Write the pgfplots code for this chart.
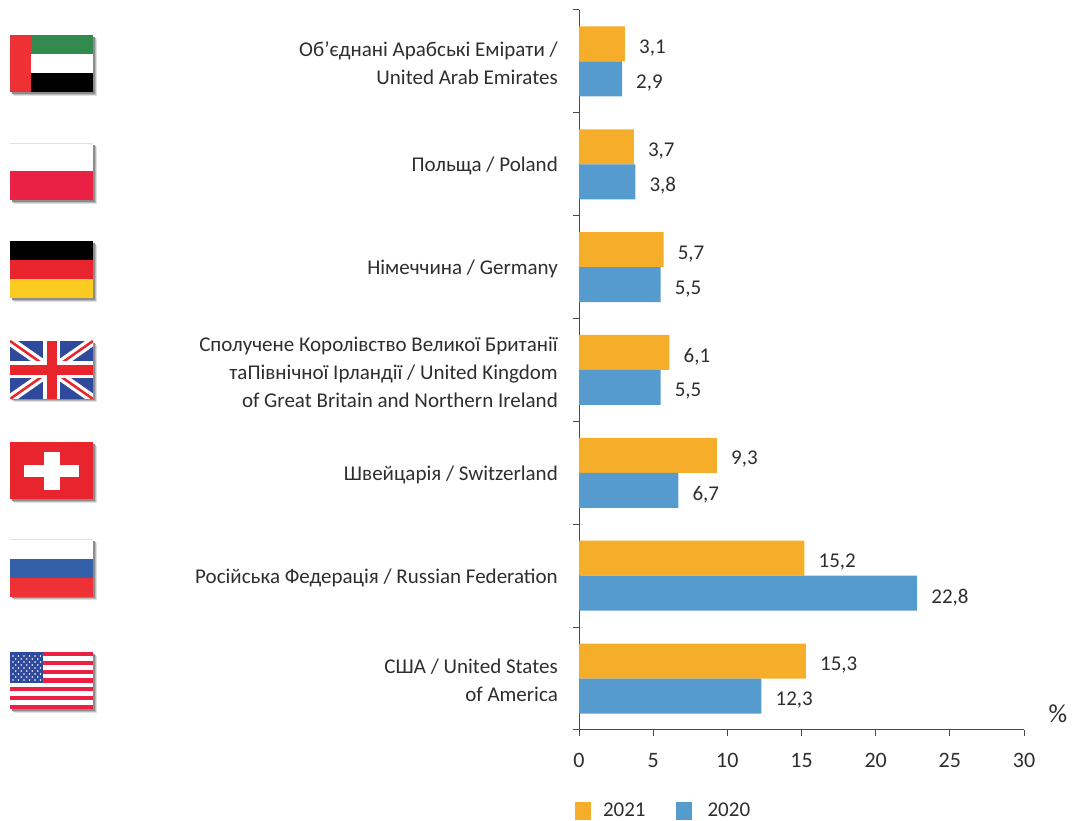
\documentclass[border=0pt]{standalone}
\usepackage{pgfplots}
\pgfplotsset{compat=1.18}
\usepackage{fontspec}
\setmainfont{Carlito}
\definecolor{orangebar}{HTML}{F6AE2A}
\definecolor{bluebar}{HTML}{569BCE}
\definecolor{ink}{HTML}{2E2E2E}
\definecolor{axisc}{HTML}{4A4A4A}
\definecolor{fgreen}{HTML}{338A4E}
\definecolor{fred}{HTML}{EE3134}
\definecolor{fcrim}{HTML}{EA2044}
\definecolor{fdred}{HTML}{E8242D}
\definecolor{fyel}{HTML}{FBCB22}
\definecolor{fblue}{HTML}{2F4A9C}
\definecolor{frus}{HTML}{3360A9}
\newcommand{\flagbase}[2]{\fill[black!12] (#1+4,#2+4) rectangle (#1+87,#2+61);\fill[black!28] (#1+3,#2+3) rectangle (#1+86,#2+60);\fill[black!45] (#1+2,#2+2) rectangle (#1+85,#2+59);}
\begin{document}
\begin{tikzpicture}[x=1pt,y=1pt]
\useasboundingbox (0,0) rectangle (1074,821);
\begin{axis}[
  at={(579pt,91pt)},anchor=south west,
  scale only axis,width=445pt,height=720pt,
  xbar,bar width=35pt,
  legend image code/.code={\path[#1,draw=none] (0pt,-9pt) rectangle (16pt,9pt);},
  xmin=0,xmax=30,ymin=0,ymax=7,
  axis x line*=bottom,axis y line*=left,
  axis line style={axisc,line width=1pt,-},
  xtick={0,5,...,30},
  ytick={0.5,1.5,2.5,3.5,4.5,5.5,6.5},
  yticklabels={{США / United States\\of America},
    Російська Федерація / Russian Federation,
    Швейцарія / Switzerland,
    {Сполучене Королівство Великої Британії\\таПівнічної Ірландії / United Kingdom\\of Great Britain and Northern Ireland},
    Німеччина / Germany,
    Польща / Poland,
    {Об'єднані Арабські Емірати /\\United Arab Emirates}},
  yticklabel style={align=right,anchor=east,xshift=-15pt,yshift=-2pt,inner sep=0pt,text=ink,font=\fontsize{21}{28}\selectfont},
  xticklabel style={text=ink,font=\fontsize{22}{24}\selectfont,yshift=-14pt},
  /pgf/number format/assume math mode=true,
  major tick length=6pt,
  x tick style={draw=axisc,line width=1pt},
  y tick style={draw=none},
  tick align=outside,
  extra y ticks={0,1,2,3,4,5,6,7},
  extra y tick labels={},
  extra y tick style={y tick style={draw=axisc,line width=1pt}},
  xtick pos=bottom,ytick pos=left,
  clip=false,
  nodes near coords,
  point meta=x,
  nodes near coords style={/pgf/number format/use comma,/pgf/number format/fixed,/pgf/number format/fixed zerofill,/pgf/number format/precision=1,
     anchor=west,inner sep=0pt,xshift=14pt,yshift=-4pt,text=ink,font=\fontsize{21}{24}\selectfont},
  legend columns=2,
  legend style={draw=none,fill=none,at={(-4pt,-71pt)},anchor=north west,inner sep=0pt,outer sep=0pt,
    font=\fontsize{21}{24}\selectfont,text=ink,
    /tikz/column 1/.style={column sep=10pt},
    /tikz/column 2/.style={column sep=28pt},
    /tikz/column 3/.style={column sep=14pt}},
]
\addplot[fill=orangebar,draw=none,bar shift=17.5pt] coordinates {(15.3,0.5) (15.2,1.5) (9.3,2.5) (6.1,3.5) (5.7,4.5) (3.7,5.5) (3.1,6.5)};
\addlegendentry{2021}
\addplot[fill=bluebar,draw=none,bar shift=-17.5pt] coordinates {(12.3,0.5) (22.8,1.5) (6.7,2.5) (5.5,3.5) (5.5,4.5) (3.8,5.5) (2.9,6.5)};
\addlegendentry{2020}
\end{axis}
\node[text=ink,font=\fontsize{26}{28}\selectfont] at (1058,107) {\%};
% flags, drawn in picture pixels (y measured from the top)
\begin{scope}[shift={(0,821)},y=-1pt]
 % UAE
 \flagbase{10}{35}
 \fill[white] (10,35) rectangle (93,92);
 \fill[fgreen] (31,35) rectangle (93,54);
 \fill[black] (31,73) rectangle (93,92);
 \fill[fred] (10,35) rectangle (31,92);
 % Poland
 \flagbase{10}{143}
 \fill[white] (10,143) rectangle (93,171);
 \draw[black!12,line width=.5pt] (10,143) -- (93,143);
 \fill[fcrim] (10,171) rectangle (93,200);
 % Germany
 \flagbase{10}{241}
 \fill[black] (10,241) rectangle (93,260);
 \fill[fdred] (10,260) rectangle (93,279);
 \fill[fyel] (10,279) rectangle (93,298);
 % UK
 \flagbase{10}{341}
 \begin{scope}
  \clip (10,341) rectangle (93,399);
  \fill[fblue] (10,341) rectangle (93,399);
  \draw[white,line width=9pt] (10,341) -- (93,399) (10,399) -- (93,341);
  \draw[fdred,line width=2.5pt] (10,341) -- (93,399) (10,399) -- (93,341);
  \draw[white,line width=17pt] (51.5,341) -- (51.5,399) (10,370) -- (93,370);
  \draw[fdred,line width=10pt] (51.5,341) -- (51.5,399) (10,370) -- (93,370);
 \end{scope}
 % Switzerland
 \flagbase{10}{442}
 \fill[fdred] (10,442) rectangle (93,499);
 \fill[white] (44,452) rectangle (60,490);
 \fill[white] (24,465) rectangle (79,477);
 % Russia
 \flagbase{10}{539}
 \fill[white] (10,539) rectangle (93,559);
 \draw[black!12,line width=.5pt] (10,539) -- (93,539);
 \fill[frus] (10,559) rectangle (93,578);
 \fill[fred] (10,578) rectangle (93,597);
 % USA
 \flagbase{10}{652}
 \fill[white] (10,652) rectangle (93,709);
 \foreach \i in {0,2,4,6,8,10,12} {
   \fill[fcrim] (10,652+\i*4.385) rectangle (93,652+\i*4.385+4.385);
 }
 \fill[fblue] (10,652) rectangle (43,683);
 \foreach \r in {0,...,4} { \foreach \c in {0,...,5} {
   \fill[white] (13+\c*5.5,656+\r*6) circle (0.9);
 }}
 \foreach \r in {0,...,3} { \foreach \c in {0,...,4} {
   \fill[white] (15.7+\c*5.5,659+\r*6) circle (0.9);
 }}
\end{scope}
\end{tikzpicture}
\end{document}
